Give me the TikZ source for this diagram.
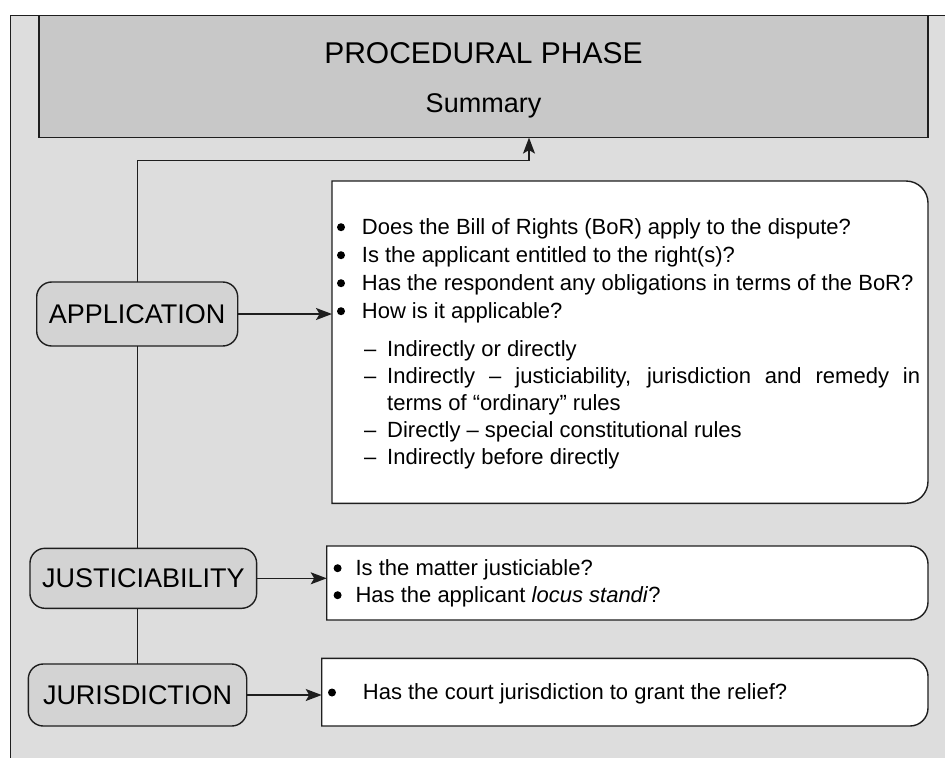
\documentclass[tikz,border=0pt]{standalone}
\usepackage{fontspec}
\setmainfont{Liberation Sans}
\usetikzlibrary{positioning,arrows.meta}

\definecolor{bggray}{HTML}{DDDDDD}
\definecolor{headgray}{HTML}{C8C8C8}
\definecolor{tabgray}{HTML}{D3D3D3}
\definecolor{edgegray}{HTML}{1E1E1E}

\tikzset{link/.style={
  draw=edgegray,
  line width=1.4pt,
  },
  arrow/.style={
  link,
  -{Stealth[length=16pt,width=12pt,inset=3.5pt]},
  },
  headbox/.style={
  shape=rectangle,
  draw=edgegray,
  fill=headgray,
  line width=1.4pt,
  anchor=north west,
  outer sep=0pt,
  },
  tabbox/.style={
  shape=rectangle,
  rounded corners=15pt,
  draw=edgegray,
  fill=tabgray,
  line width=1.4pt,
  inner sep=0pt,
  outer sep=0pt,
  minimum height=62pt,
  font=\fontsize{27}{32}\selectfont,
  },
  qbox/.style={
  shape=rectangle,
  anchor=north west,
  inner sep=0pt,
  outer sep=0pt,
  },
  qtext/.style={
  inner sep=0pt,
  align=left,
  font=\fontsize{22}{28}\selectfont,
  },
  }

% white box, square on the left, rounded on the right
\newcommand{\roundedge}[2]{%
  \filldraw[link, fill=white] (#1.north west) -- ([xshift=-#2]#1.north east)
    arc[start angle=90, end angle=0, radius=#2] -- ([yshift=#2]#1.south east)
    arc[start angle=0, end angle=-90, radius=#2] -- (#1.south west) -- cycle;}
\newcommand{\blt}[1][24.9pt]{\makebox[#1][l]{\tikz[baseline=-7pt]\fill[black] (4pt,0) circle (4pt);}}
\newcommand{\dsh}{\hspace*{27pt}\makebox[23.2pt][l]{–}}

\begin{document}
\begin{tikzpicture}[x=1pt,y=1pt]
      \useasboundingbox (0,0) rectangle (945,-758);
      \fill[bggray] (10.7,-15.6) rectangle (945,-758);
      \draw[link] (945,-15.6) -- (10.7,-15.6) -- (10.7,-758);

      \node[headbox, minimum width=889pt, minimum height=122pt] (phase) at (39,-15.6) {};
      \node[anchor=base, font=\fontsize{30}{36}\selectfont] (title) at ([yshift=-47.4pt]phase.north) {PROCEDURAL PHASE};
      \node[anchor=base, font=\fontsize{27}{32}\selectfont] (subtitle) at ([yshift=-96.4pt]phase.north) {Summary};

      \node[tabbox, minimum width=201pt, minimum height=64pt] (app) at (137.2,-314) {APPLICATION};
      \node[tabbox, minimum width=226.7pt, minimum height=60pt] (just) at (143.3,-578.3) {JUSTICIABILITY};
      \node[tabbox, minimum width=218.4pt] (juris) at (137.5,-695) {JURISDICTION};

      \node[qbox, minimum width=596pt, minimum height=322.3pt] (appbox) at (332,-181) {};
      \node[qbox, minimum width=601.3pt, minimum height=74pt] (justbox) at (326.7,-546) {};
      \node[qbox, minimum width=606.3pt, minimum height=67.7pt] (jurisbox) at (321.7,-658.3) {};
      \roundedge{appbox}{22pt}
      \roundedge{justbox}{18pt}
      \roundedge{jurisbox}{18pt}

      \node[qtext, below right=35pt and 4.8pt of appbox.north west] (apptext) {%
        \rule{0pt}{18pt}\blt Does the Bill of Rights (BoR) apply to the dispute?\\
        \blt Is the applicant entitled to the right(s)?\\
        \blt Has the respondent any obligations in terms of the BoR?\\
        \blt How is it applicable?\\[10pt]
        \dsh Indirectly or directly\\[-1pt]
        \dsh\makebox[533pt][s]{Indirectly – justiciability, jurisdiction and remedy in}\\[-1pt]
        \hspace*{50.2pt}terms of “ordinary” rules\\[-1pt]
        \dsh Directly – special constitutional rules\\[-1pt]
        \dsh Indirectly before directly};
      \node[qtext, below right=11pt and 6.7pt of justbox.north west] (justtext) {%
        \rule{0pt}{18pt}\blt[22pt]Is the matter justiciable?\\[-1pt]
        \blt[22pt]Has the applicant \textit{locus standi}?};
      \node[qtext, below right=23pt and 6.1pt of jurisbox.north west] (juristext) {%
        \rule{0pt}{18pt}\blt[34.9pt]Has the court jurisdiction to grant the relief?};

      \coordinate (bend) at (529,-160.7);
      \draw[arrow] (app.north) |- (bend) -- (bend |- phase.south);
      \draw[link] (app.south) -- (app.south |- just.north);
      \draw[link] (app.south |- just.south) -- (app.south |- juris.north);
      \draw[arrow] (app.east) -- (app.east -| appbox.west);
      \draw[arrow] (just.east) -- (just.east -| justbox.west);
      \draw[arrow] (juris.east) -- (juris.east -| jurisbox.west);
\end{tikzpicture}
\end{document}
